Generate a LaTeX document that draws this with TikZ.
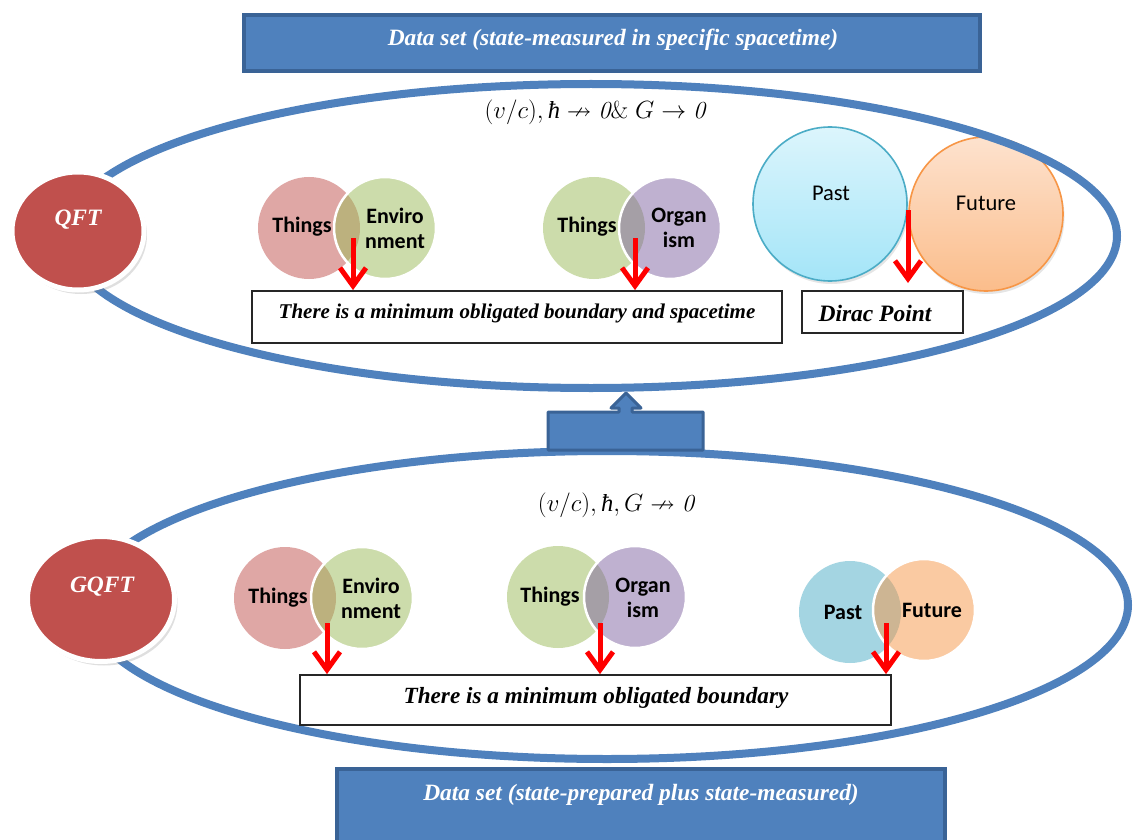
\documentclass[tikz,border=0pt]{standalone}
\usepackage{fontspec}
\usepackage{amssymb}
\usetikzlibrary{shapes.geometric,arrows.meta,shadows}
\newfontfamily\tnr{Liberation Serif}
\newfontfamily\calib{Carlito}
\newcommand{\myhbar}{\text{\tnr\itshape ħ}}
\usepackage{amsmath}
\definecolor{ublue}{HTML}{4F81BD}
\definecolor{bdark}{HTML}{3A6396}
\definecolor{qred}{HTML}{C0504D}
\definecolor{vred}{HTML}{C0504D}
\definecolor{vgreen}{HTML}{9BBB59}
\definecolor{vpurple}{HTML}{8064A2}
\definecolor{vaqua}{HTML}{4BACC6}
\definecolor{vorange}{HTML}{F79646}
\definecolor{pasttop}{HTML}{DCF5FC}
\definecolor{pastbot}{HTML}{A4E5F8}
\definecolor{futtop}{HTML}{FDE2CE}
\definecolor{futbot}{HTML}{FBBD8B}
\tikzset{
  ell/.style={draw=ublue, line width=8pt, ellipse, inner sep=0pt},
  banner/.style={draw=bdark, fill=ublue, line width=4pt, rectangle, inner sep=0pt},
  bantext/.style={text=white, inner sep=0pt, font=\tnr\bfseries\itshape\fontsize{23.4}{28}\selectfont},
  fieldc/.style={ellipse, fill=qred, draw=white, line width=5pt, inner sep=0pt,
    drop shadow={opacity=0.25, shadow xshift=3pt, shadow yshift=-4pt}},
  fieldtext/.style={text=white, inner sep=0pt, font=\tnr\bfseries\itshape\fontsize{23.5}{28}\selectfont},
  vl/.style={circle, minimum size=102pt, inner sep=0pt, fill opacity=0.5},
  vr/.style={vl, draw=white, line width=2.5pt, draw opacity=1},
  vtext/.style={font=\calib\bfseries\fontsize{22}{25}\selectfont, align=center, inner sep=0pt},
  ptext/.style={font=\calib\fontsize{22.5}{26}\selectfont, inner sep=0pt},
  obox/.style={draw=black!85, line width=1.8pt, fill=white, rectangle, inner sep=0pt},
  otext/.style={font=\tnr\bfseries\itshape\fontsize{21}{25}\selectfont, inner sep=0pt},
  redarr/.style={draw=red, line width=5pt, -{Straight Barb[length=18pt, width=26pt]}},
  gradc/.style={circle, minimum size=154pt, inner sep=0pt, line width=1.6pt,
    drop shadow={opacity=0.2, shadow xshift=1.5pt, shadow yshift=-3pt}},
  mathlbl/.style={inner sep=0pt, font=\fontsize{24.5}{28}\selectfont},
}
\begin{document}
\begin{tikzpicture}[x=1pt, y=-1pt]
\clip (0,0) rectangle (1133,840);
\fill[white] (0,0) rectangle (1133,840);

% gradient circles (under the ellipse line)
\node[gradc, draw=vaqua, top color=pasttop, bottom color=pastbot] (past1) at (830,204) {};
\node[gradc, draw=vorange, top color=futtop, bottom color=futbot] (fut1) at (986,214) {};

% big ellipses
\node[ell, minimum width=1052pt, minimum height=304pt] (E1) at (591,236) {};
\node[ell, minimum width=1042pt, minimum height=308pt] (E2) at (607,605) {};

% banners
\node[banner, minimum width=736pt, minimum height=56pt] (ban1) at (612,43) {};
\node[bantext] (ban1t) at (613,40) {Data set (state-measured in specific spacetime)};
\node[banner, minimum width=608pt, minimum height=100pt] (ban2) at (641,819) {};
\node[bantext] (ban2t) at (641,795) {Data set (state-prepared plus state-measured)};

% up arrow block
\draw[fill=ublue, draw=bdark, line width=3pt, line join=round]
  (548,412) -- (619,412) -- (619,408) -- (611,408) -- (626,393) -- (641,408)
  -- (632,408) -- (632,412) -- (703,412) -- (703,450) -- (548,450) -- cycle;

% field circles
\node[fieldc, minimum width=132pt, minimum height=118pt] (qft) at (78,231) {};
\node[fieldtext] (qftt) at (78,220) {QFT};
\node[fieldc, minimum width=147pt, minimum height=125pt] (gqft) at (101,599) {};
\node[fieldtext] (gqftt) at (102,587) {GQFT};

% formulas
\node[mathlbl] (f1) at (595,112) {$(v/c),\myhbar\nrightarrow\mathit{0}\&\;G\rightarrow\mathit{0}$};
\node[mathlbl] (f2) at (616,505) {$(v/c),\myhbar,G\nrightarrow\mathit{0}$};

% top row Venns
\node[vl, fill=vred] (tl1) at (309,228) {};
\node[vr, fill=vgreen] (tr1) at (385,228) {};
\node[vtext] (tl1t) at (302,227) {Things};
\node[vtext] (tr1t) at (395,228) {Enviro\\nment};
\node[vl, fill=vgreen] (tl2) at (594,228) {};
\node[vr, fill=vpurple] (tr2) at (670,228) {};
\node[vtext] (tl2t) at (587,227) {Things};
\node[vtext] (tr2t) at (679,228) {Organ\\ism};
\node[ptext] (past1t) at (831,193) {Past};
\node[ptext] (fut1t) at (986,203) {Future};

% bottom row Venns
\node[vl, fill=vred] (bl1) at (285,598) {};
\node[vr, fill=vgreen] (br1) at (362,598) {};
\node[vtext] (bl1t) at (278,598) {Things};
\node[vtext] (br1t) at (371,598) {Enviro\\nment};
\node[vl, fill=vgreen] (bl2) at (558,597) {};
\node[vr, fill=vpurple] (br2) at (635,597) {};
\node[vtext] (bl2t) at (550,597) {Things};
\node[vtext] (br2t) at (643,598) {Organ\\ism};
\node[vl, fill=vaqua] (bl3) at (850,612) {};
\node[vr, fill=vorange] (br3) at (924,610) {};
\node[vtext] (bl3t) at (843,612) {Past};
\node[vtext] (br3t) at (932,610) {Future};

% boxes
\node[obox, minimum width=530pt, minimum height=52pt] (box1) at (517,317) {};
\node[otext] (box1t) at (517,313) {There is a minimum obligated boundary and spacetime};
\node[obox, minimum width=161pt, minimum height=42pt] (box2) at (882.5,312) {};
\node[otext, font=\tnr\bfseries\itshape\fontsize{23.5}{28}\selectfont] (box2t) at (875,313) {Dirac Point};
\node[obox, minimum width=591pt, minimum height=50pt] (box3) at (595.5,700) {};
\node[otext, font=\tnr\bfseries\itshape\fontsize{23.2}{28}\selectfont] (box3t) at (596,698) {There is a minimum obligated boundary};

% red arrows
\coordinate (a1) at (353,238);
\coordinate (a2) at (635,238);
\coordinate (a3) at (908,210);
\coordinate (a3e) at (908,283);
\coordinate (b1) at (327,623);
\coordinate (b2) at (600,623);
\coordinate (b3) at (886,623);
\draw[redarr] (a1) -- (a1 |- box1.north);
\draw[redarr] (a2) -- (a2 |- box1.north);
\draw[redarr] (a3) -- (a3e);
\draw[redarr] (b1) -- (b1 |- box3.north);
\draw[redarr] (b2) -- (b2 |- box3.north);
\draw[redarr] (b3) -- (b3 |- box3.north);
\end{tikzpicture}
\end{document}
